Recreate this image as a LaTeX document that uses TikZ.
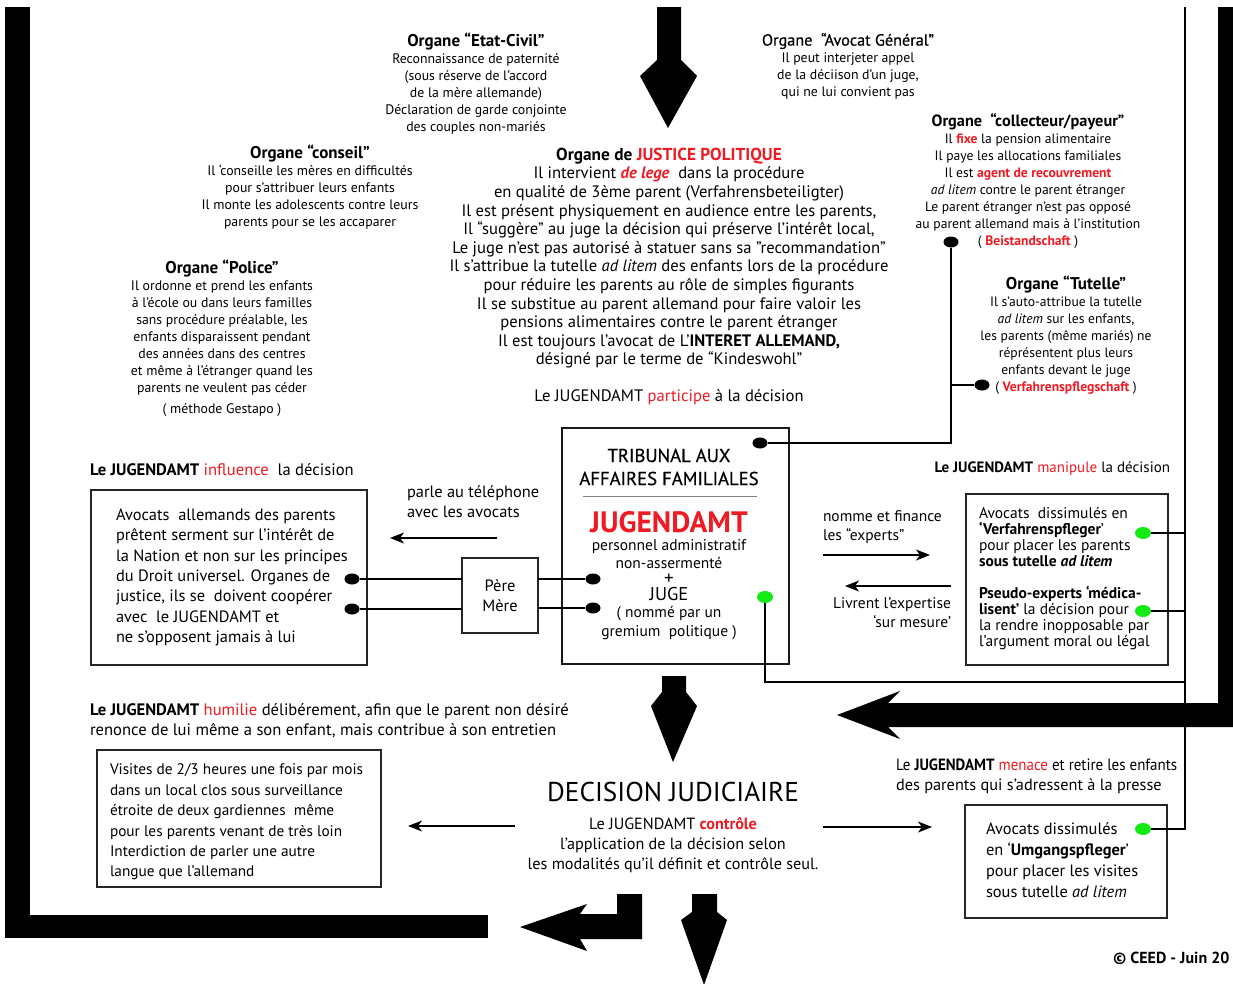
\documentclass[tikz,border=0pt]{standalone}
\usepackage{fontspec}
\usepackage{graphicx}
\setmainfont{PT Sans}
\newfontfamily\medfont[FakeBold=0.6]{PT Sans}
\usetikzlibrary{arrows.meta,shapes.geometric}
\definecolor{jred}{RGB}{237,28,36}
\definecolor{jgreen}{RGB}{20,235,20}
\newcommand\FS[2]{\fontsize{#1}{#2}\selectfont}
\newcommand\rd[1]{\textcolor{jred}{#1}}
\newcommand\ttl[1]{{\FS{17}{17}\bfseries #1}}
\begin{document}
\begin{tikzpicture}[x=1pt,y=-1pt,
  txt/.style={inner sep=0pt, outer sep=0pt},
  box/.style={draw=black!85, line width=2.2pt, inner sep=0pt, outer sep=0pt},
  bdot/.style={ellipse, fill=black, minimum width=15pt, minimum height=11pt, inner sep=0pt},
  gdot/.style={ellipse, fill=jgreen, minimum width=16pt, minimum height=12pt, inner sep=0pt},
  wire/.style={line width=1.3pt, black},
  arr/.style={line width=1.3pt, -{Stealth[length=14pt,width=11pt,inset=4pt]}},
  big/.style={fill=black, draw=none}]
\useasboundingbox (0,0) rectangle (1233,983);
\fill[white] (0,0) rectangle (1233,983);

% thick frame bars
\fill[big] (5,7) rectangle (30,938);
\fill[big] (5,915) rectangle (488,938);
\fill[big] (1218,7) rectangle (1233,727);
\fill[big] (1233,703) -- (888,703) -- (900,691) -- (837,715) -- (900,739) -- (888,727) -- (1233,727) -- cycle;

% big arrows
\fill[big] (657,7) -- (681,7) -- (681,60) -- (697,76) -- (668,128) -- (640,76) -- (657,60) -- cycle;
\fill[big] (662,676) -- (686,676) -- (686,692) -- (697,706) -- (673,762) -- (651,706) -- (662,692) -- cycle;
\fill[big] (617,894) -- (642,894) -- (642,939) -- (580,939) -- (587,951) -- (520,927) -- (587,904) -- (580,914) -- (617,914) -- cycle;
\fill[big] (692,894) -- (717,894) -- (717,912) -- (727,920) -- (704,985) -- (681,920) -- (692,912) -- cycle;

% top texts
\node[txt, anchor=north, align=center, font=\FS{13.8}{17}] (ec) at (476,33)
 {\ttl{Organe “Etat-Civil”}\\ Reconnaissance de paternité\\ (sous réserve de l’accord\\ de la mère allemande)\\ Déclaration de garde conjointe\\ des couples non-mariés};
\node[txt, anchor=north, align=center, font=\FS{13.8}{17}] (ag) at (848,33)
 {{\medfont\FS{16.2}{17}Organe~ “Avocat Général”}\\ Il peut interjeter appel\\ de la déciison d’un juge,\\ qui ne lui convient pas};
\node[txt, anchor=north, align=center, font=\FS{13.8}{17}] (cs) at (310,145)
 {\ttl{Organe “conseil”}\\ Il ‘conseille les mères en difficultés\\ pour s’attribuer leurs enfants\\ Il monte les adolescents contre leurs\\ parents pour se les accaparer};
\node[txt, anchor=north, align=center, font=\FS{13.8}{17}] (po) at (222,260)
 {\ttl{Organe “Police”}\\ Il ordonne et prend les enfants\\ à l’école ou dans leurs familles\\ sans procédure préalable, les\\ enfants disparaissent pendant\\ des années dans des centres\\ et même à l’étranger quand les\\ parents ne veulent pas céder\\[4pt] ( méthode Gestapo )};
\node[txt, anchor=north, align=center, font=\FS{16.6}{18.6}] (ju) at (669,148)
 {{\FS{17.3}{18.6}\bfseries Organe de \rd{JUSTICE POLITIQUE}}\\
 Il intervient \rd{\bfseries\itshape de lege}~ dans la procédure\\
 en qualité de 3ème parent (Verfahrensbeteiligter)\\
 Il est présent physiquement en audience entre les parents,\\
 Il “suggère” au juge la décision qui préserve l’intérêt local,\\
 Le juge n’est pas autorisé à statuer sans sa ”recommandation”\\
 Il s’attribue la tutelle \textit{ad litem} des enfants lors de la procédure\\
 pour réduire les parents au rôle de simples figurants\\
 Il se substitue au parent allemand pour faire valoir les\\
 pensions alimentaires contre le parent étranger\\
 Il est toujours l’avocat de L’\textbf{INTERET ALLEMAND,}\\
 désigné par le terme de “Kindeswohl”};
\node[txt, anchor=north, font=\FS{16.6}{18}] (pa) at (669,390) {Le JUGENDAMT \rd{participe} à la décision};
\node[txt, anchor=north, align=center, font=\FS{13.6}{17}] (cp) at (1028,113)
 {{\FS{16.3}{17}\bfseries Organe~ “collecteur/payeur”}\\ Il \rd{\bfseries fixe} la pension alimentaire\\ Il paye les allocations familiales\\ Il est \rd{\bfseries agent de recouvrement}\\ \textit{ad litem} contre le parent étranger\\ Le parent étranger n’est pas opposé\\ au parent allemand mais à l’institution\\ ( \rd{\bfseries Beistandschaft} )};
\node[txt, anchor=north, align=center, font=\FS{13.6}{17}] (tu) at (1066,276)
 {\ttl{Organe “Tutelle”}\\ Il s’auto-attribue la tutelle\\ \textit{ad litem} sur les enfants,\\ les parents (même mariés) ne\\ réprésentent plus leurs\\ enfants devant le juge\\ ( \rd{\bfseries Verfahrenspflegschaft} )};

% connectors from collecteur / tutelle
\node[bdot] (dA) at (951,242) {};
\node[bdot] (dB) at (982,385) {};

% tribunal
\node[box, line width=2.8pt, draw=black!90, anchor=north west, minimum width=227pt, minimum height=236pt] (trib) at (562,428) {};
\node[txt, align=center, font=\medfont\FS{18.7}{23}] (tt) at (669,467) {TRIBUNAL AUX\\AFFAIRES FAMILIALES};
\draw[black!50, line width=0.8pt] (583,496) -- (757,496);
\node[txt, font=\FS{29.5}{30}\bfseries, text=jred] (jg) at (669,522) {JUGENDAMT};
\node[txt, align=center, font=\FS{15.5}{18}] (pers) at (669,554) {personnel administratif\\non-assermenté};
\node[txt, font=\FS{19}{18}] (plus) at (669,579) {+};
\node[txt, font=\FS{18.5}{18}] (juge) at (669,594) {JUGE};
\node[txt, align=center, font=\FS{15.5}{19}] (nom) at (669,623.5) {( nommé par un\\gremium~ politique )};
\node[bdot] (dT) at (760,443) {};
\node[bdot] (d1) at (593,579) {};
\node[bdot] (d2) at (593,608) {};
\node[gdot] (g0) at (765,597) {};
\draw[wire] (dA) |- (dT);
\draw[wire] (dB) -- (dB -| dA);

% left side
\node[txt, anchor=west, font=\FS{16.6}{18}] (inf) at (90,470) {\textbf{Le JUGENDAMT} \rd{influence}~ la décision};
\node[box, anchor=north west, minimum width=276pt, minimum height=175pt] (lb) at (91,490) {};
\node[txt, anchor=north west, align=left, font=\FS{16.4}{20.3}] (lbt) at (116,509)
 {Avocats~ allemands des parents\\ prêtent serment sur l’intérêt de\\ la Nation et non sur les principes\\ du Droit universel. Organes de\\ justice, ils se~ doivent coopérer\\ avec~ le JUGENDAMT et\\ ne s’opposent jamais à lui};
\node[bdot] (l1) at (352,579) {};
\node[bdot] (l2) at (352,609) {};
\node[box, line width=1.8pt, anchor=north west, minimum width=76pt, minimum height=75pt, align=center, font=\FS{16.4}{20}] (pm) at (462,558) {Père\\Mère};
\draw[wire] (l1) -- (l1 -| pm.west);
\draw[wire] (l2) -- (l2 -| pm.west);
\draw[wire] (d1) -- (d1 -| pm.east);
\draw[wire] (d2) -- (d2 -| pm.east);
\node[txt, anchor=north west, align=left, font=\FS{16.4}{20}] (ph) at (407,486) {parle au téléphone\\avec les avocats};
\coordinate (phA) at (497,538);
\coordinate (phB) at (390,538);
\draw[arr] (phA) -- (phB);

% right side
\node[txt, anchor=east, font=\FS{15}{18}] (man) at (1170,469) {\textbf{Le JUGENDAMT} \rd{manipule} la décision};
\node[box, anchor=north west, minimum width=202pt, minimum height=171pt] (rb) at (966,494) {};
\node[txt, anchor=north west, align=left, font=\FS{15.5}{16}] (rbt) at (979,507)
 {Avocats~ dissimulés en\\ \textbf{‘Verfahrenspfleger}’\\ pour placer les parents\\ \textbf{sous tutelle \textit{ad litem}}\\[16pt]
 \textbf{Pseudo-experts ‘médica-}\\ \textbf{lisent’} la décision pour\\ la rendre inopposable par\\ l’argument moral ou légal};
\node[gdot] (g1) at (1143,533) {};
\node[gdot] (g2) at (1143,611) {};
\node[txt, anchor=north west, align=left, font=\FS{15.5}{19}] (nf) at (823,511) {nomme et finance\\les “experts”};
\coordinate (nfA) at (823,555);
\coordinate (nfB) at (930,555);
\draw[arr] (nfA) -- (nfB);
\coordinate (lvA) at (951,586);
\coordinate (lvB) at (845,586);
\draw[arr] (lvA) -- (lvB);
\node[txt, anchor=north east, align=right, font=\FS{15.5}{19}] (lv) at (951,598) {Livrent l’expertise\\‘sur mesure’};

% thin vertical line on the right
\coordinate (vtop) at (1185,7);
\coordinate (jct) at (1185,682);

% bottom part
\node[txt, anchor=north west, align=left, font=\FS{16.6}{20}] (hu) at (90,704)
 {\textbf{Le JUGENDAMT} \rd{humilie} délibérement, afin que le parent non désiré\\ renonce de lui même a son enfant, mais contribue à son entretien};
\node[box, anchor=north west, minimum width=284pt, minimum height=137pt] (bl) at (97,750) {};
\node[txt, anchor=north west, align=left, font=\FS{15.3}{20.4}] (blt) at (110,764)
 {Visites de 2/3 heures une fois par mois\\ dans un local clos sous surveillance\\ étroite de deux gardiennes~ même\\ pour les parents venant de très loin\\ Interdiction de parler une autre\\ langue que l’allemand};
\node[txt, font=\FS{27.2}{28}] (dj) at (673,792) {DECISION JUDICIAIRE};
\node[txt, anchor=north, align=center, font=\FS{16.2}{20}] (ct) at (673,818)
 {Le JUGENDAMT \rd{\bfseries contrôle}\\ l’application de la décision selon\\ les modalités qu’il définit et contrôle seul.};
\coordinate (ctA) at (515,826);
\coordinate (ctB) at (408,826);
\draw[arr] (ctA) -- (ctB);
\coordinate (ctC) at (823,827);
\coordinate (ctD) at (932,827);
\draw[arr] (ctC) -- (ctD);
\node[txt, anchor=north west, align=left, font=\FS{16.3}{20}] (me) at (896,759)
 {\scalebox{0.92}[1]{Le \textbf{JUGENDAMT} \rd{menace} et retire les enfants}\\ des parents qui s’adressent à la presse};
\node[box, anchor=north west, minimum width=202pt, minimum height=113pt] (br) at (965,805) {};
\node[txt, anchor=north west, align=left, font=\FS{16.4}{21}] (brt) at (986,823)
 {Avocats dissimulés\\ en ‘\textbf{Umgangspfleger}’\\ pour placer les visites\\ sous tutelle \textit{ad litem}};
\node[gdot] (g3) at (1143,829) {};

% green connectors
\draw[wire] (vtop) |- (g3);
\draw[wire] (g1) -- (g1 -| vtop);
\draw[wire] (g2) -- (g2 -| vtop);
\draw[wire] (g0) |- (jct);

\node[txt, anchor=west, font=\FS{16}{18}\bfseries] (cr) at (1113,958) {© CEED - Juin 20};
\end{tikzpicture}
\end{document}
